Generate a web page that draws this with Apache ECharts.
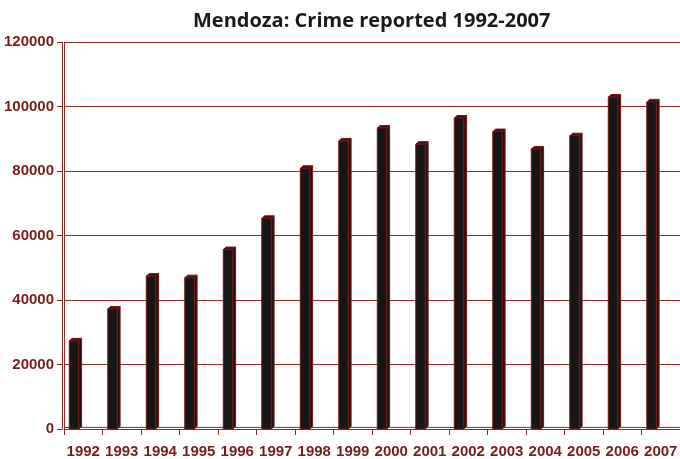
<!DOCTYPE html>
<html>
<head>
<meta charset="utf-8">
<script src="https://cdn.jsdelivr.net/npm/echarts@6/dist/echarts.min.js"></script>
<style>
  html, body { margin: 0; padding: 0; background: #ffffff; }
  #chart { width: 680px; height: 459px; }
</style>
</head>
<body>
<div id="chart"></div>
<script>
// Reported crime in Mendoza, per year
const years = ['1992', '1993', '1994', '1995', '1996', '1997', '1998', '1999',
               '2000', '2001', '2002', '2003', '2004', '2005', '2006', '2007'];
const crimes = [27300, 37200, 47400, 46900, 55600, 65300, 80800, 89300,
                93300, 88300, 96400, 92200, 86800, 90900, 102900, 101400];
const yTicks = [0, 20000, 40000, 60000, 80000, 100000, 120000];

const axisRed = '#8e2a2a';
const labelRed = '#7a1c1c';
const labelFont = "'Liberation Sans', Arial, sans-serif";

// Column with a small extruded top and right side
function renderColumn(params, api) {
  const top = api.coord([api.value(0), api.value(1)]);
  const base = api.coord([api.value(0), 0]);
  const band = api.size([1, 0])[0];
  const w = band * 0.245;
  const left = top[0] - band * 0.363;
  const d = band * 0.075;
  const dy = 2.6;
  const edge = { stroke: '#7d1414', lineWidth: 1 };
  return {
    type: 'group',
    children: [
      {
        type: 'polygon',
        shape: { points: [[left + w, top[1]], [left + w + d, top[1] - dy],
                          [left + w + d, base[1] - dy], [left + w, base[1]]] },
        style: Object.assign({ fill: '#1c1414' }, edge)
      },
      {
        type: 'polygon',
        shape: { points: [[left, top[1]], [left + d, top[1] - dy],
                          [left + w + d, top[1] - dy], [left + w, top[1]]] },
        style: Object.assign({ fill: '#3c1212' }, edge)
      },
      {
        type: 'rect',
        shape: { x: left, y: top[1], width: w, height: base[1] - top[1] },
        style: Object.assign({ fill: '#161616' }, edge)
      }
    ]
  };
}

const chart = echarts.init(document.getElementById('chart'), null, { renderer: 'canvas' });

chart.setOption({
  backgroundColor: '#ffffff',
  animation: false,
  title: {
    text: 'Mendoza: Crime reported 1992-2007',
    left: 188,
    top: 6,
    textStyle: {
      fontFamily: "'Open Sans', 'Noto Sans', sans-serif",
      fontWeight: 'bold',
      fontSize: 20,
      color: '#1a1a1a'
    }
  },
  grid: { left: 64, right: 0, top: 42, bottom: 30, containLabel: false, outerBoundsMode: 'none' },
  xAxis: {
    type: 'category',
    data: years,
    boundaryGap: true,
    axisLine: { show: true, lineStyle: { color: axisRed, width: 1 } },
    axisTick: { show: true, length: 6, lineStyle: { color: axisRed } },
    axisLabel: {
      color: labelRed,
      fontFamily: labelFont,
      fontWeight: 'bold',
      fontSize: 15,
      margin: 15,
      interval: 0
    },
    splitLine: { show: false }
  },
  yAxis: [
    {
      type: 'value',
      min: yTicks[0],
      max: yTicks[yTicks.length - 1],
      interval: yTicks[1] - yTicks[0],
      axisLine: { show: true, lineStyle: { color: axisRed, width: 1 } },
      axisTick: { show: false },
      axisLabel: { show: false },
      splitLine: { show: true, lineStyle: { color: axisRed, width: 1 } }
    },
    {
      type: 'value',
      position: 'left',
      offset: 2,
      min: yTicks[0],
      max: yTicks[yTicks.length - 1],
      interval: yTicks[1] - yTicks[0],
      axisLine: { show: true, lineStyle: { color: axisRed, width: 1 } },
      axisTick: { show: true, length: 5, lineStyle: { color: axisRed } },
      axisLabel: {
        color: labelRed,
        fontFamily: labelFont,
        fontWeight: 'bold',
        fontSize: 15,
        margin: 8,
        formatter: (v) => String(v)
      },
      splitLine: { show: false }
    }
  ],
  series: [
    {
      type: 'custom',
      name: 'Crime reported',
      renderItem: renderColumn,
      encode: { x: 0, y: 1 },
      data: years.map((y, i) => [i, crimes[i]]),
      z: 3
    }
  ]
});

// Front edge of the chart floor, just above the axis line
const floorY = chart.convertToPixel({ yAxisIndex: 0 }, 0) - 1.6;
chart.setOption({
  graphic: [{
    type: 'line',
    shape: { x1: 64, y1: floorY, x2: 680, y2: floorY },
    style: { stroke: axisRed, lineWidth: 1 },
    z: 2
  }]
});
</script>
</body>
</html>
